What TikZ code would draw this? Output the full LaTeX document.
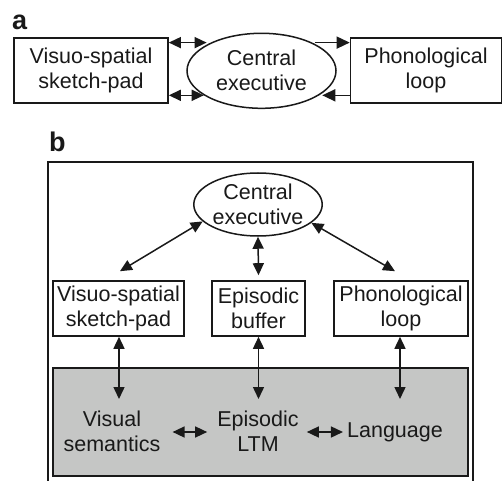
\documentclass[tikz,border=0pt]{standalone}
\usepackage{fontspec}
\setmainfont{Liberation Sans}
\usetikzlibrary{shapes.geometric,arrows.meta,calc}
\definecolor{ink}{RGB}{25,25,25}
\definecolor{ltmgray}{RGB}{197,198,197}
\tikzset{
  txt/.style={font=\fontsize{21.5}{25}\selectfont, align=center, text=ink, inner sep=0pt},
  boxn/.style={draw=ink, line width=1.6pt, txt},
  ovaln/.style={draw=ink, line width=1.5pt, ellipse, txt},
  lbl/.style={font=\fontsize{27}{27}\bfseries\selectfont, text=ink, inner sep=0pt, anchor=base west},
  arr/.style={draw=ink, line width=1.5pt, -{Triangle[length=13pt,width=12pt]}},
  darr/.style={draw=ink, line width=1.5pt, {Triangle[length=12pt,width=11pt]}-{Triangle[length=12pt,width=11pt]}}
}
\begin{document}
\begin{tikzpicture}[x=1pt,y=-1pt]
\useasboundingbox (0,0) rectangle (503,481);
% ---------- panel a ----------
\node[lbl] (la) at (12,30) {a};
\node[boxn, minimum width=154pt, minimum height=65pt] (A1) at (91,70.5) {Visuo-spatial\\sketch-pad};
\node[ovaln, minimum width=149pt, minimum height=75pt] (A2) at (261.5,70.8) {Central\\executive};
\node[boxn, minimum width=151pt, minimum height=65pt] (A3) at (426,70.5) {Phonological\\loop};
\draw[darr] (A1.east |- A2.151) -- ([xshift=-4pt]A2.151);
\draw[darr] (A1.east |- A2.203) -- (A2.203);
\draw[arr] ([xshift=3pt]A2.29) -- (A3.west |- A2.29);
\draw[arr] (A3.west |- A2.-23) -- ([xshift=3pt]A2.-23);
% ---------- panel b ----------
\node[lbl] (lb) at (49,152) {b};
\draw[draw=ink, line width=1.6pt] (48,482) -- (48,162) -- (473,162) -- (473,482);
\node[draw=ink, line width=1.6pt, fill=ltmgray, minimum width=415pt, minimum height=108pt, inner sep=0pt] (G) at (260.5,422) {};
\node[ovaln, minimum width=128pt, minimum height=63pt] (CE) at (258,204.5) {Central\\executive};
\node[boxn, minimum width=131pt, minimum height=55pt] (VS) at (118.5,308.5) {Visuo-spatial\\sketch-pad};
\node[boxn, minimum width=93pt, minimum height=55pt] (EB) at (258.5,308.5) {Episodic\\buffer};
\node[boxn, minimum width=134pt, minimum height=55pt] (PL) at (401,308.5) {Phonological\\loop};
\node[txt] (VM) at (112,431) {Visual\\semantics};
\node[txt] (EL) at (258,431) {Episodic\\LTM};
\node[txt] (LG) at (395,432) {Language};
\coordinate (e1) at (119,399);
\coordinate (e2) at (258.5,399);
\coordinate (e3) at (400,399);
\draw[darr] (CE.197) -- ([xshift=1.5pt,yshift=9pt]VS.north);
\draw[darr] (CE.south) -- ([yshift=5pt]EB.north);
\draw[darr] (CE.-19) -- ([xshift=-6pt,yshift=9pt]PL.north);
\draw[darr] ([xshift=0.5pt]VS.south) -- (e1);
\draw[darr] (EB.south) -- (e2);
\draw[darr] ([xshift=-1pt]PL.south) -- (e3);
\draw[darr] ([xshift=12pt,yshift=-1pt]VM.east) -- ([xshift=-10pt,yshift=-1pt]EL.west);
\draw[darr] ([xshift=8pt,yshift=-1pt]EL.east) -- ([xshift=-4pt]LG.west);
\end{tikzpicture}
\end{document}
